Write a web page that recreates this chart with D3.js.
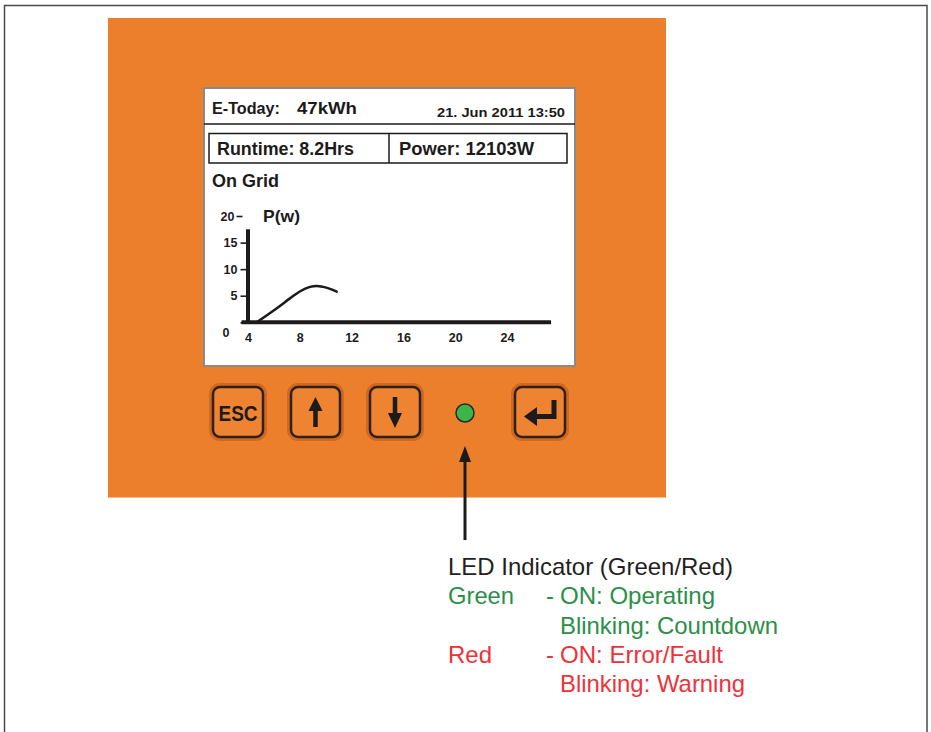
<!DOCTYPE html>
<html>
<head>
<meta charset="utf-8">
<script src="https://cdn.jsdelivr.net/npm/d3@7"></script>
<style>
  html, body { margin: 0; padding: 0; background: #fff; }
  svg { display: block; }
  text { font-family: "Liberation Sans", Arial, sans-serif; }
</style>
</head>
<body>
<svg id="chart" width="931" height="732"></svg>
<script>
// ---- data ----
const xTicks = [4, 8, 12, 16, 20, 24];
const yTicks = [0, 5, 10, 15, 20];
const powerHours  = [4.67, 6.2, 7.24, 8.0, 8.79, 9.3, 9.8, 10.33, 10.85];
const powerValues = [0, 2.6, 4.5, 5.8, 6.66, 6.85, 6.66, 6.28, 5.77];
const headerTexts = ["E-Today:", "47kWh", "21. Jun 2011 13:50"];
const boxTexts = ["Runtime: 8.2Hrs", "Power: 12103W"];
const statusText = "On Grid";
const yAxisTitle = "P(w)";
const buttonLabels = ["ESC", "up", "down", "led", "enter"];
const ledTitle = "LED Indicator (Green/Red)";
const ledColors = ["Green", "Red"];
const ledStates = [["ON: Operating", "Blinking: Countdown"], ["ON: Error/Fault", "Blinking: Warning"]];

const svg = d3.select("#chart");
const ORANGE = "#EC7F2C";
const INK = "#1c1a1a";

// outer frame
svg.append("rect").attr("x", 4.5).attr("y", 5.5).attr("width", 922.5).attr("height", 760)
  .attr("fill", "none").attr("stroke", "#4a4a4a").attr("stroke-width", 1.5);

// orange panel
svg.append("rect").attr("x", 108).attr("y", 18).attr("width", 558).attr("height", 480)
  .attr("fill", ORANGE);
svg.append("line").attr("x1", 108).attr("x2", 666).attr("y1", 497.5).attr("y2", 497.5)
  .attr("stroke", "#F6B98A").attr("stroke-width", 1);

// screen
svg.append("rect").attr("x", 204).attr("y", 88).attr("width", 371).attr("height", 278)
  .attr("fill", "#fff").attr("stroke", "#8a8a8a").attr("stroke-width", 2);

function txt(g, s, x, y, size, weight, len, fill, anchor) {
  const t = g.append("text").attr("x", x).attr("y", y)
    .attr("font-size", size).attr("font-weight", weight || "normal")
    .attr("fill", fill || INK).text(s);
  if (anchor) t.attr("text-anchor", anchor);
  if (len) t.attr("textLength", len).attr("lengthAdjust", "spacingAndGlyphs");
  return t;
}

// header
txt(svg, headerTexts[0], 212, 114, 16.5, "bold", 68);
txt(svg, headerTexts[1], 297, 114, 16.5, "bold", 60);
txt(svg, headerTexts[2], 437, 117, 12.5, "bold", 128);
svg.append("line").attr("x1", 204).attr("x2", 575).attr("y1", 124).attr("y2", 124)
  .attr("stroke", INK).attr("stroke-width", 1.5);

// runtime / power box
svg.append("rect").attr("x", 209).attr("y", 133.5).attr("width", 358).attr("height", 29.5)
  .attr("fill", "none").attr("stroke", INK).attr("stroke-width", 1.5);
svg.append("line").attr("x1", 389).attr("x2", 389).attr("y1", 133.5).attr("y2", 163)
  .attr("stroke", INK).attr("stroke-width", 1.5);
txt(svg, boxTexts[0], 217, 155, 17.5, "bold", 137);
txt(svg, boxTexts[1], 399, 155, 17.5, "bold", 135);
txt(svg, statusText, 212, 187, 17.5, "bold", 67);

// ---- chart ----
const x = d3.scaleLinear().domain([4, 24]).range([248, 507]);
const y = d3.scaleLinear().domain([0, 20]).range([322.3, 216]);
const chart = svg.append("g");

// y ticks (left dashes + labels)
const yAxis = d3.axisLeft(y).tickValues(yTicks).tickSize(7).tickPadding(3)
  .tickFormat(d => d);
const yg = chart.append("g").attr("transform", "translate(247.5,0)").call(yAxis);
yg.select(".domain").remove();
yg.selectAll(".tick line").attr("stroke", INK).attr("stroke-width", 1.6)
  .attr("x1", d => d === 20 ? -11 : 0).attr("x2", d => d === 20 ? -5 : -7);
yg.selectAll(".tick text").attr("font-size", 12.5).attr("font-weight", "bold").attr("fill", INK)
  .attr("font-family", "Liberation Sans, Arial, sans-serif")
  .attr("x", d => d === 20 ? -13 : (d === 0 ? -18 : -10))
  .attr("dy", d => d === 0 ? "1.1em" : "0.32em");

// x tick labels
const xAxis = d3.axisBottom(x).tickValues(xTicks).tickSize(0).tickPadding(11).tickFormat(d => d);
const xg = chart.append("g").attr("transform", "translate(0,322.3)").call(xAxis);
xg.select(".domain").remove();
xg.selectAll(".tick text").attr("font-size", 12.5).attr("font-weight", "bold").attr("fill", INK)
  .attr("font-family", "Liberation Sans, Arial, sans-serif");

// axis lines
chart.append("line").attr("x1", x(4)).attr("x2", x(4)).attr("y1", y(0) + 1).attr("y2", y(17.5))
  .attr("stroke", INK).attr("stroke-width", 4);
chart.append("line").attr("x1", x(3.5)).attr("x2", x(27.4)).attr("y1", y(0)).attr("y2", y(0))
  .attr("stroke", INK).attr("stroke-width", 4);

// axis title
txt(chart, yAxisTitle, 263, 222, 16.5, "bold", 37);

// power curve
const line = d3.line().x((d, i) => x(powerHours[i])).y(d => y(d)).curve(d3.curveCatmullRom);
chart.append("path").datum(powerValues).attr("d", line)
  .attr("fill", "none").attr("stroke", INK).attr("stroke-width", 2.5).attr("stroke-linecap", "round");

// ---- buttons ----
const buttons = [
  { key: "ESC", x: 213, w: 50 },
  { key: "up", x: 291, w: 49 },
  { key: "down", x: 370, w: 50 },
  { key: "enter", x: 515, w: 50 }
];
const by = 387, bh = 50;
const bg = svg.append("g");
buttons.forEach(b => {
  bg.append("rect").attr("x", b.x - 2).attr("y", by - 2).attr("width", b.w + 4).attr("height", bh + 4)
    .attr("rx", 9).attr("fill", "none").attr("stroke", "#B9561A").attr("stroke-opacity", 0.55).attr("stroke-width", 4);
  bg.append("rect").attr("x", b.x).attr("y", by).attr("width", b.w).attr("height", bh)
    .attr("rx", 7).attr("fill", "#EE8331").attr("stroke", "#2d211a").attr("stroke-width", 2.5);
  const cx = b.x + b.w / 2;
  if (b.key === "ESC") {
    txt(bg, "ESC", cx, by + 34, 22, "bold", 39, INK, "middle");
  } else if (b.key === "up") {
    bg.append("line").attr("x1", cx).attr("x2", cx).attr("y1", 408).attr("y2", 427)
      .attr("stroke", INK).attr("stroke-width", 4.5);
    bg.append("path").attr("d", `M${cx},397 L${cx - 7},411 L${cx + 7},411 Z`).attr("fill", INK);
  } else if (b.key === "down") {
    bg.append("line").attr("x1", cx).attr("x2", cx).attr("y1", 397).attr("y2", 415)
      .attr("stroke", INK).attr("stroke-width", 4.5);
    bg.append("path").attr("d", `M${cx},428 L${cx - 7},413 L${cx + 7},413 Z`).attr("fill", INK);
  } else if (b.key === "enter") {
    bg.append("path").attr("d", `M554,400 L554,416.5 L533,416.5`).attr("fill", "none")
      .attr("stroke", INK).attr("stroke-width", 5);
    bg.append("path").attr("d", `M524,416.5 L537,407 L537,426 Z`).attr("fill", INK);
  }
});

// LED
svg.append("circle").attr("cx", 465).attr("cy", 413).attr("r", 9)
  .attr("fill", "#3DB54A").attr("stroke", "#2a2a2a").attr("stroke-width", 1.5);

// pointer arrow
svg.append("line").attr("x1", 465).attr("x2", 465).attr("y1", 456).attr("y2", 540)
  .attr("stroke", INK).attr("stroke-width", 3);
svg.append("path").attr("d", "M465,446 L459,462 L471,462 Z").attr("fill", INK);

// ---- LED legend ----
const GREEN = "#2B8F47", RED = "#EE3239";
const lg = svg.append("g");
txt(lg, ledTitle, 448, 575, 24, "normal", 285, "#231F20");
const stateColors = [GREEN, RED];
const labelLens = [66, 44];
const stateLens = [[155, 218], [163, 185]];
ledColors.forEach((c, i) => {
  const base = 604 + i * 58.5;
  txt(lg, c, 448, base, 24, "normal", labelLens[i], stateColors[i]);
  txt(lg, "-", 546, base, 24, "normal", null, stateColors[i]);
  txt(lg, ledStates[i][0], 560, base, 24, "normal", stateLens[i][0], stateColors[i]);
  txt(lg, ledStates[i][1], 560, base + 29.5, 24, "normal", stateLens[i][1], stateColors[i]);
});
</script>
</body>
</html>
